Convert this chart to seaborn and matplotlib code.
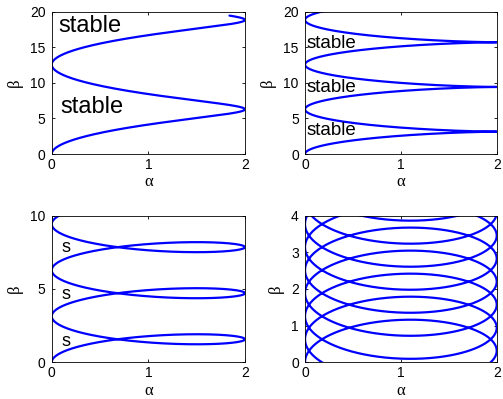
import numpy as np
import pandas as pd
import matplotlib
matplotlib.use("Agg")
import matplotlib.pyplot as plt
import seaborn as sns

# curve family: alpha = 1 - cos(w t), beta = t + sin(w t), one w per panel
# (w read off from the spacing of the turning points in each panel)
omega = [0.5, 1, 2, 10]
t_end = 20
beta_top = [20, 20, 10, 4]
beta_ticks = [[0, 5, 10, 15, 20], [0, 5, 10, 15, 20], [0, 5, 10], [0, 1, 2, 3, 4]]
alpha_ticks = [0, 1, 2]

# region labels per panel
label_text = ["stable", "stable", "s", ""]
label_size = [17, 13.5, 13, 10]
label_alpha = [[0.07, 0.09], [0.02, 0.02, 0.02], [0.10, 0.10, 0.10], []]
label_beta = [[18.0, 6.6], [15.5, 9.4, 3.3], [7.8, 4.6, 1.4], []]

sns.set_theme(style="ticks")
plt.rcParams["font.family"] = ["Liberation Sans", "DejaVu Sans"]
plt.rcParams["text.color"] = "black"
plt.rcParams["axes.labelcolor"] = "black"

fig = plt.figure(figsize=(5.03, 3.99), dpi=100)
rects = [[0.1028, 0.614, 0.3843, 0.3566],
         [0.6064, 0.614, 0.3811, 0.3566],
         [0.1028, 0.092, 0.3843, 0.3674],
         [0.6064, 0.092, 0.3811, 0.3674]]

for i in range(4):
    ax = fig.add_axes(rects[i])
    t = np.linspace(0, t_end, 30000)
    df = pd.DataFrame({"alpha": 1 - np.cos(omega[i] * t),
                       "beta": t + np.sin(omega[i] * t)})
    sns.lineplot(data=df, x="alpha", y="beta", sort=False, estimator=None,
                 color=(0, 0, 1), linewidth=1.6, ax=ax)
    ax.set_xlim(0, 2)
    ax.set_ylim(0, beta_top[i])
    ax.set_xticks(alpha_ticks)
    ax.set_yticks(beta_ticks[i])
    ax.tick_params(direction="in", top=True, right=True, length=2.5, width=0.6,
                   colors="black", labelsize=10, pad=3)
    ax.tick_params(axis="y", pad=4.5)
    for sp in ax.spines.values():
        sp.set_visible(True)
        sp.set_color("black")
        sp.set_linewidth(0.6)
    ax.set_xlabel("α", fontfamily="Liberation Serif", fontsize=12, labelpad=1.5)
    ax.set_ylabel("β", fontfamily="Liberation Serif", fontsize=12, labelpad=5)
    for a, b in zip(label_alpha[i], label_beta[i]):
        ax.text(a, b, label_text[i], fontsize=label_size[i], ha="left", va="center",
                color="black")

fig.savefig("out.png", dpi=100)
